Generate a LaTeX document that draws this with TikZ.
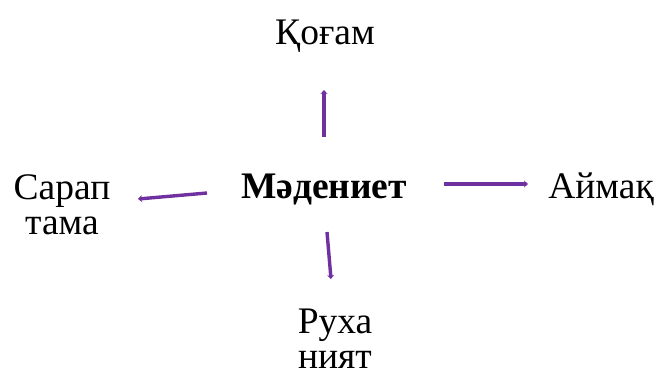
\documentclass[tikz,border=0pt]{standalone}
\usepackage{fontspec}
\setmainfont{Liberation Serif}
\usetikzlibrary{arrows.meta}
\definecolor{arrowpurple}{HTML}{7030A0}
\begin{document}
\begin{tikzpicture}[x=1pt, y=-1pt]
        \tikzstyle{word}=[font=\fontsize{37.5}{35}\selectfont, align=center,
            inner sep=0pt, anchor=base]
        \tikzstyle{link}=[draw=arrowpurple, line width=3.4pt,
            -{Stealth[length=4pt, width=7pt]}]

        \useasboundingbox (0, 0) rectangle (661, 370);

        \node[word, font=\fontsize{37.5}{35}\selectfont\bfseries] (culture) at (324, 198) {Мәдениет};
        \node[word] (society) at (325, 44) {Қоғам};
        \node[word] (region) at (601, 198) {Аймақ};
        \node[word] (review) at (62, 234) {Сарап\\тама};
        \node[word] (spirit) at (335, 368) {Руха\\ният};

        \coordinate (up1) at (324, 137);
        \coordinate (up2) at (324, 90);
        \coordinate (left1) at (207, 193);
        \coordinate (left2) at (138, 199);
        \coordinate (right1) at (444, 184);
        \coordinate (right2) at (528, 184);
        \coordinate (down1) at (327, 232);
        \coordinate (down2) at (331, 279);

        \draw[link] (up1) to (up2);
        \draw[link] (left1) to (left2);
        \draw[link] (right1) to (right2);
        \draw[link] (down1) to (down2);
    \end{tikzpicture}
\end{document}
